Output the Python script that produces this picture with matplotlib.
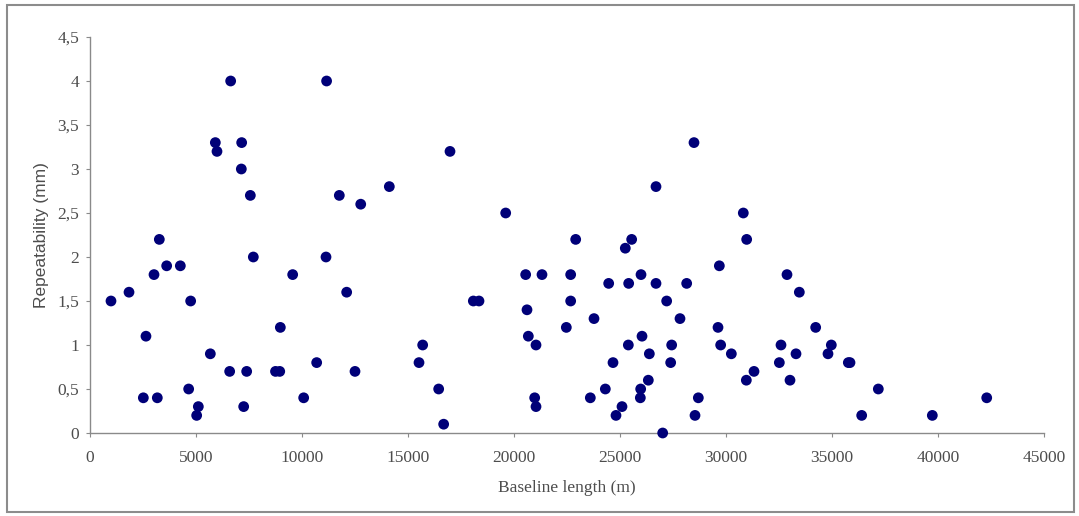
import matplotlib.pyplot as plt
from matplotlib.patches import Rectangle
from matplotlib.ticker import FuncFormatter

# baseline length (m) and repeatability (mm)
baseline = [
    990, 1840, 2640, 2516, 3175, 3019, 3270, 3616, 4261, 4748,
    4654, 5110, 5031, 5676, 5912, 5990, 6635, 6588, 7154, 7138,
    7249, 7390, 7563, 7704, 8750, 8950, 8978, 9560, 10079, 10692,
    11160, 11132, 11760, 12107, 12500, 12770, 14119, 15519, 15692, 16447,
    16682, 16981, 18082, 18349, 19608, 20550, 20613, 20676, 21038, 20975,
    21038, 21320, 22468, 22673, 22673, 22910, 23600, 23774, 24308, 24466,
    24670, 24811, 25094, 25250, 25393, 25409, 25550, 25959, 25975, 25991,
    26038, 26336, 26384, 26698, 26698, 27013, 27201, 27390, 27437, 27830,
    28145, 28490, 28538, 28695, 29623, 29686, 29748, 30252, 30816, 30959,
    30975, 31321, 32516, 32594, 32877, 33019, 33302, 33459, 34230, 34811,
    34968, 35770, 35849, 36400, 37185, 39732, 42298,
]
repeat = [
    1.5, 1.6, 1.1, 0.4, 0.4, 1.8, 2.2, 1.9, 1.9, 1.5,
    0.5, 0.3, 0.2, 0.9, 3.3, 3.2, 4.0, 0.7, 3.3, 3.0,
    0.3, 0.7, 2.7, 2.0, 0.7, 0.7, 1.2, 1.8, 0.4, 0.8,
    4.0, 2.0, 2.7, 1.6, 0.7, 2.6, 2.8, 0.8, 1.0, 0.5,
    0.1, 3.2, 1.5, 1.5, 2.5, 1.8, 1.4, 1.1, 1.0, 0.4,
    0.3, 1.8, 1.2, 1.8, 1.5, 2.2, 0.4, 1.3, 0.5, 1.7,
    0.8, 0.2, 0.3, 2.1, 1.0, 1.7, 2.2, 0.4, 0.5, 1.8,
    1.1, 0.6, 0.9, 1.7, 2.8, 0.0, 1.5, 0.8, 1.0, 1.3,
    1.7, 3.3, 0.2, 0.4, 1.2, 1.9, 1.0, 0.9, 2.5, 0.6,
    2.2, 0.7, 0.8, 1.0, 1.8, 0.6, 0.9, 1.6, 1.2, 0.9,
    1.0, 0.8, 0.8, 0.2, 0.5, 0.2, 0.4,
]

xticks = list(range(0, 45001, 5000))
yticks = [0, 0.5, 1, 1.5, 2, 2.5, 3, 3.5, 4, 4.5]

fig = plt.figure(figsize=(10.79, 5.16), dpi=100)
ax = fig.add_axes([90 / 1079, 83 / 516, 954 / 1079, 396 / 516])

ax.scatter(baseline, repeat, s=60, color='#000078', edgecolors='none', zorder=3, clip_on=False)

ax.set_xlim(0, 45000)
ax.set_ylim(0, 4.5)
ax.set_xticks(xticks)
ax.set_yticks(yticks)
ax.yaxis.set_major_formatter(FuncFormatter(lambda v, p: ('%g' % v).replace('.', ',')))

for s in ['top', 'right']:
    ax.spines[s].set_visible(False)
for s in ['left', 'bottom']:
    ax.spines[s].set_color('#8a8a8a')
    ax.spines[s].set_linewidth(1.0)

ax.tick_params(axis='both', direction='out', length=3, width=0.8, color='#8a8a8a',
               labelcolor='#4d4d4d', labelsize=12.5)
ax.tick_params(axis='y', pad=5)
ax.tick_params(axis='x', pad=9)
for lab in ax.get_xticklabels() + ax.get_yticklabels():
    lab.set_family('Liberation Serif')

ax.set_xlabel('Baseline length (m)', family='Liberation Serif', fontsize=12.5,
              color='#4d4d4d', labelpad=10)
ax.set_ylabel('Repeatability (mm)', family='Liberation Sans', fontsize=12.5,
              color='#4d4d4d', labelpad=6)

# outer frame around the chart
fig.patches.append(Rectangle((7 / 1079, 4 / 516), 1067 / 1079, 507 / 516,
                             transform=fig.transFigure, fill=False,
                             edgecolor='#8c8c8c', linewidth=1.5))

fig.savefig('out.png', dpi=100)
